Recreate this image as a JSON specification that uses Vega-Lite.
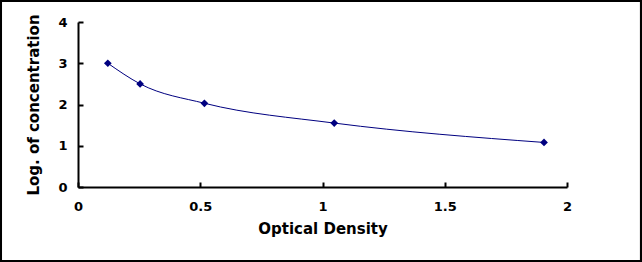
{
  "$schema": "https://vega.github.io/schema/vega-lite/v6.json",
  "autosize": "none",
  "width": 489,
  "height": 165,
  "padding": {"left": 78, "top": 22, "right": 75, "bottom": 75},
  "background": "white",
  "config": {
    "view": {"stroke": null},
    "font": "DejaVu Sans",
    "axis": {
      "grid": false,
      "domainColor": "black",
      "domainWidth": 2,
      "tickColor": "black",
      "tickWidth": 2,
      "tickSize": -5,
      "labelFont": "DejaVu Sans",
      "labelFontSize": 13,
      "labelFontWeight": "bold",
      "labelColor": "black",
      "titleFont": "DejaVu Sans",
      "titleFontSize": 15,
      "titleFontWeight": "bold",
      "titleColor": "black"
    }
  },
  "data": {
    "values": [
      {"od": 0.122, "logc": 3.0},
      {"od": 0.254, "logc": 2.5},
      {"od": 0.517, "logc": 2.03},
      {"od": 1.048, "logc": 1.55},
      {"od": 1.906, "logc": 1.08}
    ]
  },
  "layer": [
    {
      "mark": {"type": "rect", "fill": null, "stroke": "black", "strokeWidth": 4, "clip": false},
      "encoding": {
        "x": {"datum": -0.319, "type": "quantitative", "scale": {"domain": [0, 2], "nice": false}},
        "x2": {"datum": 2.3067},
        "y": {"datum": 4.533, "type": "quantitative", "scale": {"domain": [0, 4], "nice": false}},
        "y2": {"datum": -1.818}
      }
    },
    {
      "mark": {"type": "line", "color": "#000080", "strokeWidth": 1, "interpolate": "monotone"},
      "encoding": {
        "x": {
          "field": "od", "type": "quantitative",
          "scale": {"domain": [0, 2], "nice": false},
          "axis": {"title": "Optical Density", "values": [0, 0.5, 1, 1.5, 2], "format": "~g", "labelPadding": 18, "titlePadding": 8, "labelFlush": false}
        },
        "y": {
          "field": "logc", "type": "quantitative",
          "scale": {"domain": [0, 4], "nice": false},
          "axis": {"title": "Log. of concentration", "values": [0, 1, 2, 3, 4], "labelPadding": 16, "titlePadding": 16, "labelFlush": false}
        }
      }
    },
    {
      "mark": {"type": "point", "shape": "diamond", "filled": true, "color": "#000080", "size": 60, "opacity": 1},
      "encoding": {
        "x": {"field": "od", "type": "quantitative"},
        "y": {"field": "logc", "type": "quantitative"}
      }
    }
  ]
}
